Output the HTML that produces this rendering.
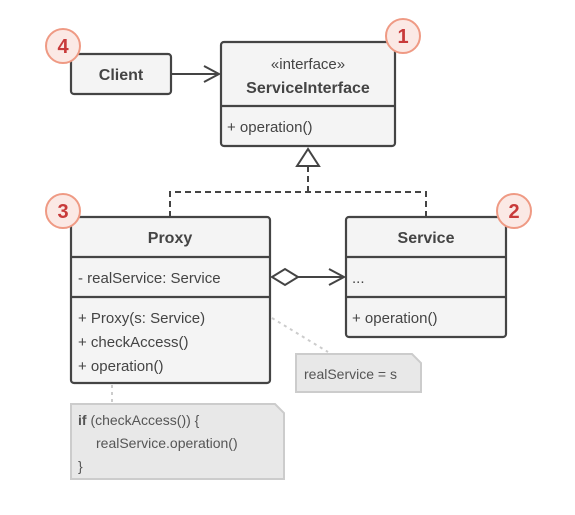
<!DOCTYPE html>
<html><head><style>body{margin:0;background:#fff}</style></head><body>
<svg width="575" height="510" xmlns="http://www.w3.org/2000/svg" font-family="Liberation Sans, sans-serif" fill="#444">
<defs><style>.b{fill:#f4f4f4;stroke:#444;stroke-width:2.2}.t{font-size:15px;fill:#444}.h{font-size:16px;font-weight:bold;fill:#444}.n{fill:#e8e8e8;stroke:#ccc;stroke-width:2}.c{fill:#fbe9e5;stroke:#ef9a84;stroke-width:2}.d{font-size:20px;font-weight:bold;fill:#c83a3a}</style></defs>
<!-- connectors -->
<line x1="171" y1="74" x2="219" y2="74" stroke="#444" stroke-width="2"/>
<polyline points="204,66 219,74 204,82" fill="none" stroke="#444" stroke-width="2"/>
<polyline points="170,217 170,192 426,192 426,217" fill="none" stroke="#444" stroke-width="2" stroke-dasharray="6,4"/>
<line x1="308" y1="192" x2="308" y2="166" stroke="#444" stroke-width="2" stroke-dasharray="6,4"/>
<polygon points="308,149 297,166 319,166" fill="#fff" stroke="#444" stroke-width="2"/>
<line x1="298" y1="277" x2="344" y2="277" stroke="#444" stroke-width="2"/>
<polygon points="272,277 285,269 298,277 285,285" fill="#fff" stroke="#444" stroke-width="2"/>
<polyline points="329,269 344,277 329,285" fill="none" stroke="#444" stroke-width="2"/>
<line x1="272" y1="318" x2="328" y2="352" stroke="#ccc" stroke-width="2" stroke-dasharray="3,4"/>
<line x1="112" y1="385" x2="112" y2="402" stroke="#ccc" stroke-width="2" stroke-dasharray="3,4"/>
<!-- Client -->
<rect class="b" x="71" y="54" width="100" height="40" rx="3"/>
<text class="h" x="121" y="80" text-anchor="middle">Client</text>
<!-- ServiceInterface -->
<rect class="b" x="221" y="42" width="174" height="104" rx="3"/>
<line x1="221" y1="106" x2="395" y2="106" stroke="#444" stroke-width="2.2"/>
<text class="t" x="308" y="69" text-anchor="middle">«interface»</text>
<text class="h" x="308" y="93" text-anchor="middle">ServiceInterface</text>
<text class="t" x="227" y="132">+ operation()</text>
<!-- Proxy -->
<rect class="b" x="71" y="217" width="199" height="166" rx="3"/>
<line x1="71" y1="257" x2="270" y2="257" stroke="#444" stroke-width="2.2"/>
<line x1="71" y1="297" x2="270" y2="297" stroke="#444" stroke-width="2.2"/>
<text class="h" x="170" y="243" text-anchor="middle">Proxy</text>
<text class="t" x="78" y="283">- realService: Service</text>
<text class="t" x="78" y="323">+ Proxy(s: Service)</text>
<text class="t" x="78" y="347">+ checkAccess()</text>
<text class="t" x="78" y="371">+ operation()</text>
<!-- Service -->
<rect class="b" x="346" y="217" width="160" height="120" rx="3"/>
<line x1="346" y1="257" x2="506" y2="257" stroke="#444" stroke-width="2.2"/>
<line x1="346" y1="297" x2="506" y2="297" stroke="#444" stroke-width="2.2"/>
<text class="h" x="426" y="243" text-anchor="middle">Service</text>
<text class="t" x="352" y="283">...</text>
<text class="t" x="352" y="323">+ operation()</text>
<!-- notes -->
<path class="n" d="M296,354 H412 L421,363 V392 H296 Z"/>
<text x="304" y="379" font-size="14" fill="#555">realService = s</text>
<path class="n" d="M71,404 H275 L284,413 V479 H71 Z"/>
<text x="78" y="425" font-size="14" fill="#555"><tspan font-weight="bold">if</tspan> (checkAccess()) {</text>
<text x="96" y="448" font-size="14" fill="#555">realService.operation()</text>
<text x="78" y="471" font-size="14" fill="#555">}</text>
<!-- badges -->
<circle class="c" cx="63" cy="46" r="17"/><text class="d" x="63" y="53" text-anchor="middle">4</text>
<circle class="c" cx="403" cy="36" r="17"/><text class="d" x="403" y="43" text-anchor="middle">1</text>
<circle class="c" cx="63" cy="211" r="17"/><text class="d" x="63" y="218" text-anchor="middle">3</text>
<circle class="c" cx="514" cy="211" r="17"/><text class="d" x="514" y="218" text-anchor="middle">2</text>
</svg>
</body></html>
